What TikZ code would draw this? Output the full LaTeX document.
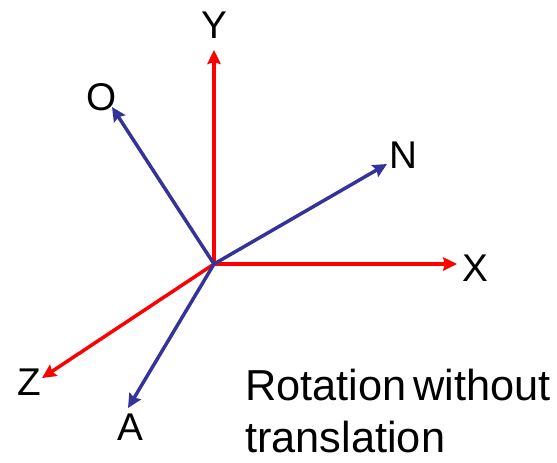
\documentclass[tikz,border=0pt]{standalone}
\usepackage{fontspec}
\setmainfont[WordSpace=0.55]{Liberation Sans}
\usetikzlibrary{arrows.meta}
\definecolor{axisred}{RGB}{255,0,0}
\definecolor{axisblue}{RGB}{51,51,153}
\tikzset{
	axis line/.style={-{Stealth[length=10.5pt,width=10pt,inset=1.5pt]}, line width=2.6pt},
	axisred line/.style={axis line, color=axisred},
	axisblue line/.style={axis line, color=axisblue},
	lbl/.style={inner sep=0pt, font=\fontsize{29}{35}\selectfont},
	caption/.style={inner sep=0pt, anchor=base west, font=\fontsize{32.5}{38}\selectfont}
}
\begin{document}
\begin{tikzpicture}[x=1pt,y=-1pt,scale=0.75]
	\useasboundingbox (0,0) rectangle (557,462);
	% common origin
	\coordinate (orig) at (214,264);
	% fixed axes
	\node[lbl] (y) at (214,25) {Y};
	\node[lbl] (x) at (475,268) {X};
	\node[lbl] (z) at (29,382) {Z};
	\coordinate (yend) at (214,50);
	\coordinate (xend) at (457,264);
	\coordinate (zend) at (42,378);
	\draw[axisred line] (orig) -- (yend);
	\draw[axisred line] (orig) -- (xend);
	\draw[axisred line] (orig) -- (zend);
	% rotated axes
	\node[lbl] (o) at (102,97) {O};
	\node[lbl] (n) at (403,155) {N};
	\node[lbl] (a) at (130,427) {A};
	\coordinate (oend) at (112,107);
	\coordinate (nend) at (387,164);
	\coordinate (aend) at (128,408);
	\draw[axisblue line] (orig) -- (oend);
	\draw[axisblue line] (orig) -- (nend);
	\draw[axisblue line] (orig) -- (aend);
	% caption
	\node[caption] (cap1) at (245,400) {Rotation without};
	\node[caption] (cap2) at (245,452) {translation};
\end{tikzpicture}
\end{document}
